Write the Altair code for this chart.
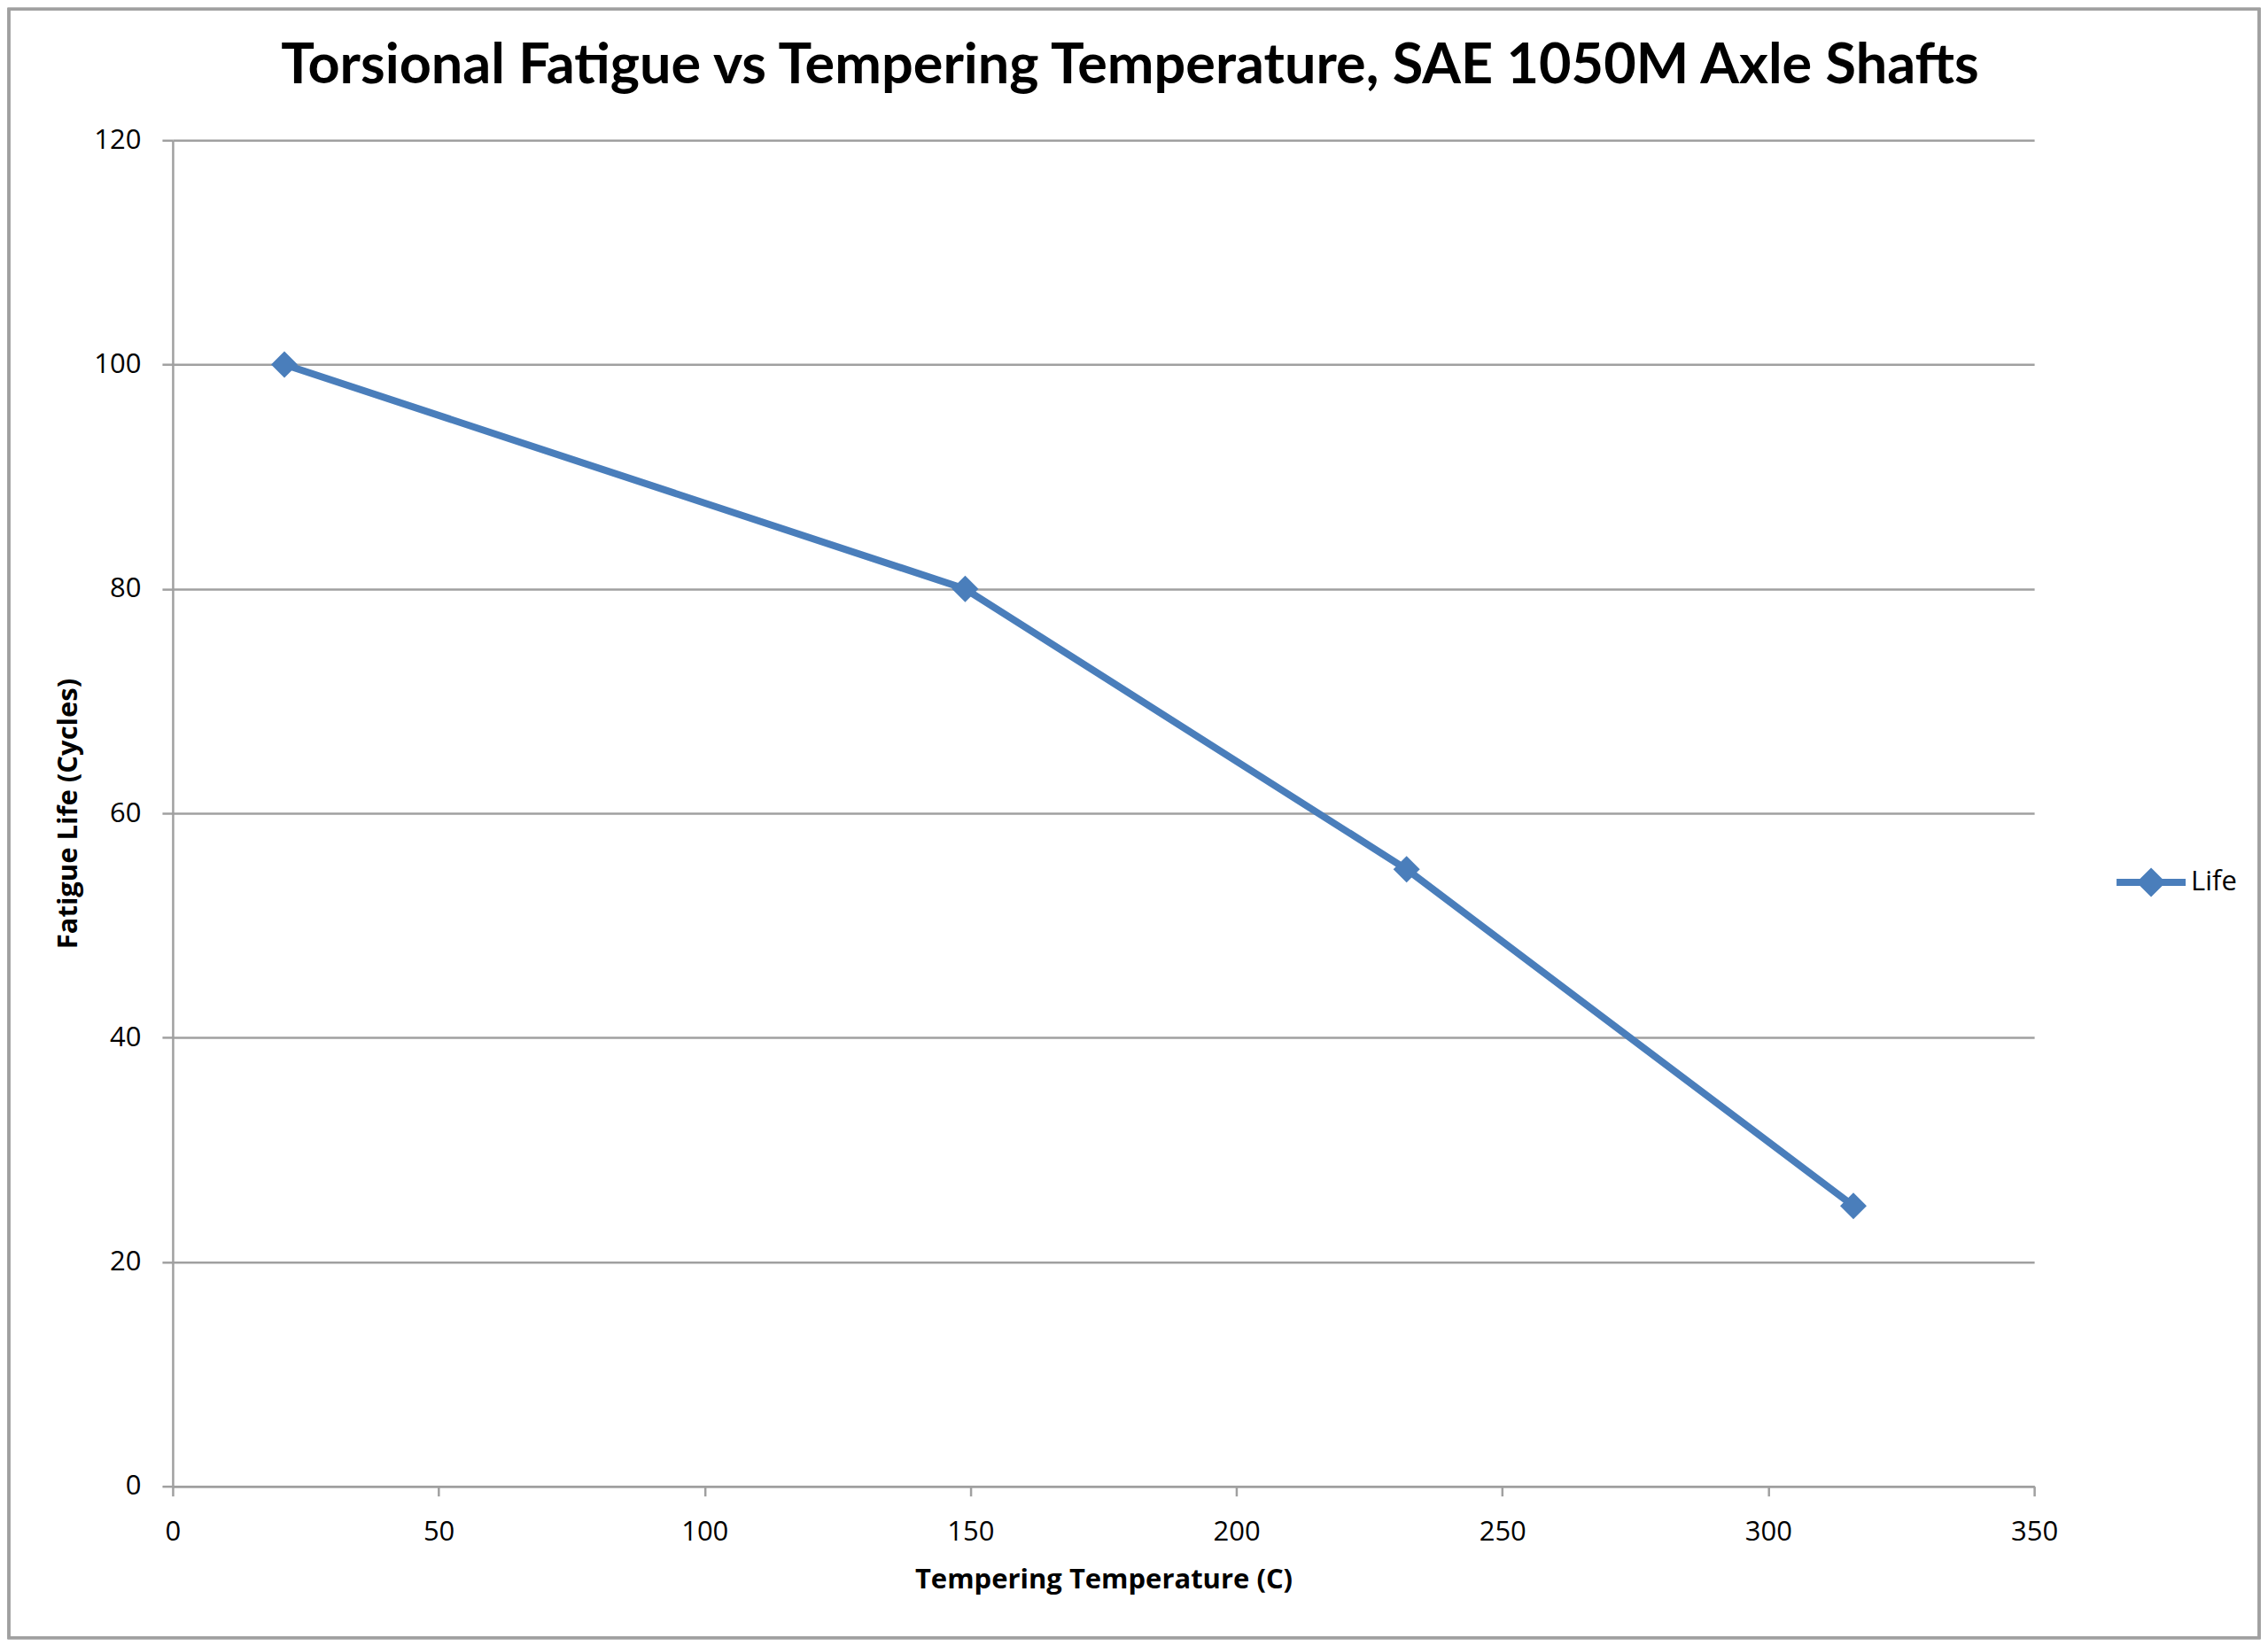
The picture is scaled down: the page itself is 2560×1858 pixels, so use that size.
import altair as alt
import pandas as pd

temps_c = [21, 149, 232, 316]
fatigue_life = [100, 80, 55, 25]
series = ["Life", "Life", "Life", "Life"]

x_ticks = [0, 50, 100, 150, 200, 250, 300, 350]
y_ticks = [0, 20, 40, 60, 80, 100, 120]

df = pd.DataFrame({"temp": temps_c, "life": fatigue_life, "series": series})

BLUE = "#4a7ebb"
GRAY = "#a0a0a0"
W, H = 2102, 1520
PL, PT, PR, PB = 187, 150, 256, 174

color = alt.Color(
    "series:N",
    scale=alt.Scale(domain=["Life"], range=[BLUE]),
    legend=alt.Legend(
        title=None,
        orient="none",
        legendX=2191,
        legendY=795,
        symbolType="M-1,0H1M0,-0.28L0.28,0L0,0.28L-0.28,0Z",
        symbolSize=6084,
        symbolStrokeWidth=8,
        symbolFillColor=BLUE,
        symbolStrokeColor=BLUE,
        labelFont="Open Sans",
        labelFontSize=31,
        labelColor="#000000",
        labelOffset=2,
        padding=0,
    ),
)

x = alt.X(
    "temp:Q",
    scale=alt.Scale(domain=[0, 350], nice=False, zero=True),
    axis=alt.Axis(
        title="Tempering Temperature (C)",
        values=x_ticks,
        grid=False,
        labelFlush=False,
        labelFont="Open Sans",
        labelFontSize=31,
        labelColor="#000000",
        labelPadding=26,
        tickSize=11,
        tickWidth=2.5,
        tickColor=GRAY,
        domainColor=GRAY,
        domainWidth=2.5,
        titleFont="Open Sans",
        titleFontWeight="bold",
        titleFontSize=31,
        titleColor="#000000",
        titlePadding=24,
    ),
)
y = alt.Y(
    "life:Q",
    scale=alt.Scale(domain=[0, 120], nice=False),
    axis=alt.Axis(
        title="Fatigue Life (Cycles)",
        values=y_ticks,
        grid=True,
        gridColor=GRAY,
        gridWidth=2.5,
        labelFont="Open Sans",
        labelFontSize=31,
        labelColor="#000000",
        labelPadding=24,
        tickSize=12,
        tickWidth=2.5,
        tickColor=GRAY,
        domainColor=GRAY,
        domainWidth=2.5,
        titleFont="Open Sans",
        titleFontWeight="bold",
        titleFontSize=31,
        titleColor="#000000",
        titlePadding=12,
    ),
)

base = alt.Chart(df).encode(x=x, y=y, color=color)
line = base.mark_line(strokeWidth=8, strokeJoin="round")
pts = base.mark_point(shape="diamond", filled=True, size=900, opacity=1)
border = alt.Chart(df).mark_rect(fill=None, stroke=GRAY, strokeWidth=3).encode(
    x=alt.value(-PL + 2), x2=alt.value(W + PR - 2), y=alt.value(-PT + 2), y2=alt.value(H + PB - 3)
)

chart = (
    alt.layer(line, pts, border)
    .properties(
        width=W,
        height=H,
        background="#ffffff",
        padding={"left": PL, "top": PT, "right": PR, "bottom": PB},
        autosize=alt.AutoSizeParams(type="none"),
        title=alt.TitleParams(
            "Torsional Fatigue vs Tempering Temperature, SAE 1050M Axle Shafts",
            font="Lato",
            fontSize=63,
            fontWeight="bold",
            color="#000000",
            anchor="middle",
            frame="group",
            dx=30,
            offset=-148,
            baseline="alphabetic",
        ),
    )
    .configure_view(stroke=None, strokeWidth=0)
)

chart.save("out.html", embed_options={"renderer": "svg", "actions": False})
